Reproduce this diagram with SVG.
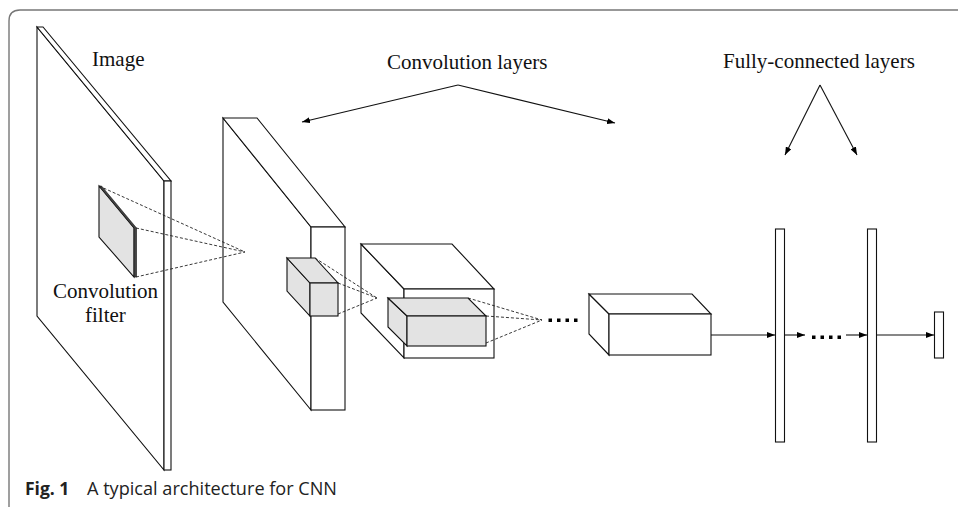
<svg xmlns="http://www.w3.org/2000/svg" width="958" height="507" viewBox="0 0 958 507">
<style>
.ln{fill:#fff;stroke:#111;stroke-width:1.1;stroke-linejoin:miter}
.gr{fill:#e3e3e3;stroke:#111;stroke-width:1.1}
.ds{fill:none;stroke:#222;stroke-width:0.9;stroke-dasharray:3 2}
.ar{fill:none;stroke:#111;stroke-width:1.1}
.lb{font-family:"Liberation Serif","Times New Roman",serif;font-size:21px;fill:#111}
.cap{font-family:"Open Sans","Liberation Sans",sans-serif;font-size:17.5px;fill:#222}
.dot{fill:#000}
</style>
<defs>
<marker id="ah" viewBox="0 0 8 6" refX="8" refY="3" markerWidth="8" markerHeight="6" markerUnits="userSpaceOnUse" orient="auto">
<path d="M0,0 L8,3 L0,6 Z" fill="#000"/>
</marker>
</defs>
<rect width="958" height="507" fill="#fff"/>
<path d="M9,507 L9,21 Q9,10 20,10 L958,10" fill="none" stroke="#777" stroke-width="1.4"/>

<g id="image-plane">
<polygon class="ln" points="37,27 164,181 164,470 37,316"/>
<polygon class="ln" points="37,27 43,27 171,181 164,181"/>
<rect class="ln" x="164" y="181" width="7" height="289"/>
</g>
<g id="image-filter">
<polygon class="gr" points="99,186 134,228 134,277 99,237"/>
<polygon points="99,186 101.5,186 136.5,228 136.5,277 134,277 134,228" fill="#444" stroke="#111" stroke-width="0.6"/>
</g>
<g id="label-image"><text class="lb" x="92" y="66">Image</text></g>
<g id="label-filter">
<text class="lb" x="53" y="298">Convolution</text>
<text class="lb" x="85" y="322">filter</text>
</g>

<g id="conv1">
<polygon class="ln" points="223,118 311,227 311,410 223,302"/>
<polygon class="ln" points="223,118 257,118 345,227 311,227"/>
<rect class="ln" x="311" y="227" width="34" height="183"/>
</g>
<g id="conv1-filter">
<polygon class="gr" points="287,258 310,283 310,316 287,291"/>
<polygon class="gr" points="287,258 315,258 338,283 310,283"/>
<rect class="gr" x="310" y="283" width="28" height="33"/>
</g>

<g id="conv2">
<polygon class="ln" points="361,244 404,289 404,358 361,313"/>
<polygon class="ln" points="361,244 452,244 494,289 404,289"/>
<rect class="ln" x="404" y="289" width="90" height="69"/>
</g>
<g id="conv2-filter">
<polygon class="gr" points="388,298 407,316 407,346 388,327"/>
<polygon class="gr" points="388,298 468,298 486,316 407,316"/>
<rect class="gr" x="407" y="316" width="79" height="30"/>
</g>

<g id="conv-last">
<polygon class="ln" points="589,294 609,314 609,355 589,334"/>
<polygon class="ln" points="589,294 692,294 711,314 609,314"/>
<rect class="ln" x="609" y="314" width="102" height="41"/>
</g>

<g id="fc1"><rect class="ln" x="775.5" y="229" width="9" height="213"/></g>
<g id="fc2"><rect class="ln" x="867.5" y="229" width="9" height="213"/></g>
<g id="output"><rect class="ln" x="934.5" y="312" width="9" height="46"/></g>

<g id="label-conv"><text class="lb" x="387" y="69">Convolution layers</text></g>
<g id="label-fc"><text class="lb" x="723" y="68">Fully-connected layers</text></g>

<g id="connectors">
<line class="ds" x1="99" y1="186" x2="245" y2="252"/>
<line class="ds" x1="136" y1="228" x2="245" y2="252"/>
<line class="ds" x1="136" y1="277" x2="245" y2="252"/>
<line class="ds" x1="315" y1="258" x2="377" y2="298"/>
<line class="ds" x1="338" y1="283" x2="377" y2="298"/>
<line class="ds" x1="338" y1="314" x2="377" y2="298"/>
<line class="ds" x1="468" y1="298" x2="542" y2="320"/>
<line class="ds" x1="486" y1="316" x2="542" y2="320"/>
<line class="ds" x1="486" y1="343" x2="542" y2="320"/>
<rect class="dot" x="548.5" y="318.5" width="3.5" height="3.5"/>
<rect class="dot" x="557" y="318.5" width="3.5" height="3.5"/>
<rect class="dot" x="565.5" y="318.5" width="3.5" height="3.5"/>
<rect class="dot" x="574" y="318.5" width="3.5" height="3.5"/>
<line class="ar" x1="458" y1="85" x2="302" y2="122" marker-end="url(#ah)"/>
<line class="ar" x1="458" y1="85" x2="615" y2="123" marker-end="url(#ah)"/>
<line class="ar" x1="820" y1="85" x2="785" y2="155" marker-end="url(#ah)"/>
<line class="ar" x1="820" y1="85" x2="857" y2="155" marker-end="url(#ah)"/>
<line class="ar" x1="711" y1="335" x2="775" y2="335" marker-end="url(#ah)"/>
<line class="ar" x1="785" y1="335" x2="805" y2="335" marker-end="url(#ah)"/>
<line class="ar" x1="846" y1="335" x2="867" y2="335" marker-end="url(#ah)"/>
<line class="ar" x1="877" y1="335" x2="934" y2="335" marker-end="url(#ah)"/>
<rect class="dot" x="812" y="335.5" width="3.5" height="3.5"/>
<rect class="dot" x="820.5" y="335.5" width="3.5" height="3.5"/>
<rect class="dot" x="829" y="335.5" width="3.5" height="3.5"/>
<rect class="dot" x="837.5" y="335.5" width="3.5" height="3.5"/>
</g>

<g id="caption">
<text class="cap" x="25" y="495" font-weight="bold" font-size="18.5">Fig. 1</text>
<text class="cap" x="87" y="495" textLength="250" lengthAdjust="spacingAndGlyphs">A typical architecture for CNN</text>
</g>
</svg>
